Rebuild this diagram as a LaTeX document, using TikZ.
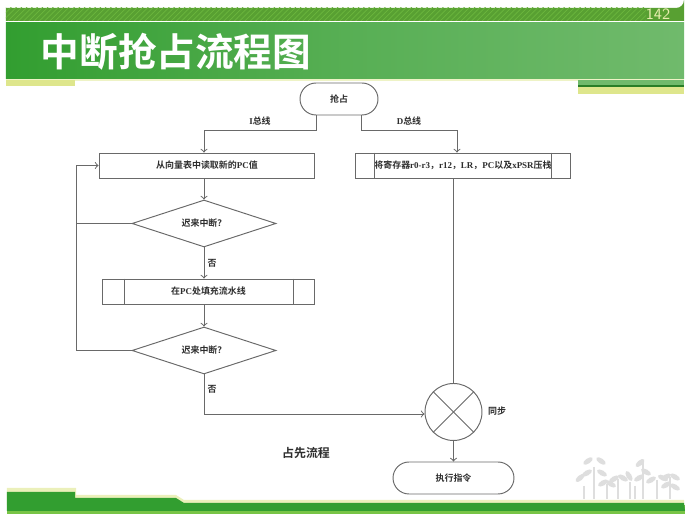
\documentclass[tikz,border=0pt]{standalone}
\usepackage{fontspec}
\setmainfont{Liberation Serif}
\newfontfamily\cjk{Noto Sans CJK SC}[BoldFont={* Bold}]
\usetikzlibrary{shapes.geometric,shapes.misc,calc,patterns}
\definecolor{barGreen}{RGB}{50,158,48}
\definecolor{barLight}{RGB}{112,186,108}
\definecolor{hatchGreen}{RGB}{88,160,50}
\definecolor{paleYellow}{RGB}{222,230,140}
\definecolor{limeGreen}{RGB}{120,196,70}
\definecolor{plantGray}{RGB}{222,222,222}
\definecolor{flowGray}{RGB}{105,105,105}
\definecolor{textGray}{RGB}{45,45,45}
\tikzset{
  flowbox/.style={draw=flowGray,line width=0.55pt,rectangle,inner sep=0pt,minimum height=0.5cm,text=textGray,font=\fontsize{5.1}{6}\selectfont\bfseries},
  flowdia/.style={draw=flowGray,line width=0.55pt,diamond,aspect=3,inner sep=0pt,minimum width=2.88cm,minimum height=0.94cm,text=textGray,font=\fontsize{5.1}{6}\selectfont\bfseries},
  flowend/.style={draw=flowGray,line width=0.55pt,rounded rectangle,inner sep=0pt,text=textGray,font=\fontsize{5.1}{6}\selectfont\bfseries},
  flowlab/.style={inner sep=0pt,text=textGray,font=\fontsize{5.1}{6}\selectfont\bfseries},
  flowline/.style={draw=flowGray,line width=0.55pt},
  flowarrow/.style={flowline,->,>=to}
}
\begin{document}
\begin{tikzpicture}[x=0.02cm,y=-0.02cm]
  \useasboundingbox (0,0) rectangle (691,519);

  % Header
  \fill[hatchGreen] (6,8) -- (676,8) arc[start angle=90,end angle=0,radius=8] -- (684,21) -- (6,21) -- cycle;
  \fill[pattern=north east lines,pattern color=limeGreen!60!hatchGreen] (6,8) rectangle (646,21);
  \fill[paleYellow!50] (6,78) rectangle (684,81);
  \fill[paleYellow] (6,80) rectangle (75,86);
  \fill[barLight] (578,80) rectangle (684,86);
  \fill[black!20!barGreen] (578,85.5) rectangle (684,87);
  \fill[paleYellow] (578,87) rectangle (684,94);
  \shade[left color=barGreen,right color=barLight,middle color=barLight!60!barGreen] (6,23) rectangle (684,79);
  \node[inner sep=0pt,text=paleYellow!70,font=\sffamily\fontsize{9}{10}\selectfont] (page) at (658,14) {142};
  \node[inner sep=0pt,text=white,font=\fontsize{22}{26}\selectfont\bfseries\cjk] (title) at (176,52) {中断抢占流程图};

  % Footer
  \fill[paleYellow!60] (7,488) -- (76,488) -- (76,495) -- (176,495) -- (184,500) -- (684,500) -- (684,505) -- (7,505) -- cycle;
  \fill[limeGreen] (7,505) rectangle (685,514);
  \fill[barGreen] (7,492) -- (75,492) -- (75,498) -- (176,498) -- (184,503) -- (684,503) -- (685,511) -- (7,511) -- cycle;

  % Plants
  \foreach \sx/\sy in {584/486,594/467,607/484,618/479,630/482,635/486,643/460,657/480,670/477}
    \draw[plantGray,line width=0.8pt] (\sx,\sy) -- (\sx,499);
  \foreach \lx/\ly/\la in {588/461/35,601/461/-35,587/473/30,602/473/-30,
    580/478/40,603/483/30,611/484/-30,614/479/30,623/478/-30,
    629/476/-60,640/463/40,646/472/-30,639/478/30,
    651/480/30,663/478/-25,666/477/30,675/477/-30,666/485/30,675/487/-30}
    \fill[plantGray,rotate around={\la:(\lx,\ly)}] (\lx,\ly) ellipse[x radius=5.5,y radius=2.6];

  % Flow nodes
  \node[flowend,minimum width=1.56cm,minimum height=0.64cm] (start) at (339,99) {{\cjk 抢占}};
  \node[flowbox,minimum width=4.32cm] (readpc) at (207,165.5) {{\cjk 从向量表中读取新的}PC{\cjk 值}};
  \node[flowdia] (lateA) at (204,223.5) {{\cjk 迟来中断？}};
  \node[flowbox,minimum width=4.26cm] (fillpc) at (208.5,291.5) {{\cjk 在}PC{\cjk 处填充流水线}};
  \node[flowdia] (lateB) at (204,350.5) {{\cjk 迟来中断？}};
  \node[flowbox,minimum width=4.32cm] (push) at (463,165.5) {{\cjk 将寄存器}r0-r3{\cjk ，}r12{\cjk ，}LR{\cjk ，}PC{\cjk 以及}xPSR{\cjk 压栈}};
  \node[draw=flowGray,line width=0.55pt,circle,inner sep=0pt,minimum size=1.14cm] (sync) at (453.5,412) {};
  \node[flowend,minimum width=2.42cm,minimum height=0.64cm] (exec) at (453.5,478) {{\cjk 执行指令}};
  \coordinate (ibus) at (316,115);
  \coordinate (dbus) at (361.5,115);

  % Side bars of the boxes
  \draw[flowline] ($(fillpc.north west)+(22.5,0)$) -- ($(fillpc.south west)+(22.5,0)$);
  \draw[flowline] ($(fillpc.north east)+(-21.5,0)$) -- ($(fillpc.south east)+(-21.5,0)$);
  \draw[flowline] ($(push.north west)+(19.5,0)$) -- ($(push.south west)+(19.5,0)$);
  \draw[flowline] ($(push.north east)+(-19.5,0)$) -- ($(push.south east)+(-19.5,0)$);
  \draw[flowline] (sync.45) -- (sync.225);
  \draw[flowline] (sync.135) -- (sync.315);

  % Connectors
  \draw[flowarrow] (ibus) -- ++(0,15) -| (lateA.north |- readpc.north);
  \draw[flowarrow] (dbus) -- ++(0,15) -| ($(push.north)+(-6,0)$);
  \draw[flowarrow] (lateA.north |- readpc.south) -- (lateA.north);
  \draw[flowarrow] (lateA.south) -- (lateA.south |- fillpc.north);
  \draw[flowarrow] (lateA.south |- fillpc.south) -- (lateB.north);
  \draw[flowarrow] (lateA.west) -- ++(-55,0) |- (readpc.west);
  \draw[flowline] (lateB.west) -- ++(-55,0) -- ($(lateA.west)+(-55,0)$);
  \draw[flowarrow] (lateB.south) |- ($(sync.west)+(0,2)$);
  \draw[flowline] (sync.north |- push.south) -- (sync.north);
  \draw[flowarrow] (sync.south) -- (exec.north);

  % Labels
  \node[flowlab] (ilab) at (260,121) {I{\cjk 总线}};
  \node[flowlab] (dlab) at (409,121) {D{\cjk 总线}};
  \node[flowlab] (noA) at (212,263) {{\cjk 否}};
  \node[flowlab] (noB) at (212,389) {{\cjk 否}};
  \node[flowlab] (synclab) at (497,411) {{\cjk 同步}};
  \node[flowlab,font=\fontsize{6.8}{8}\selectfont\bfseries] (caption) at (306,453) {{\cjk 占先流程}};
\end{tikzpicture}
\end{document}
